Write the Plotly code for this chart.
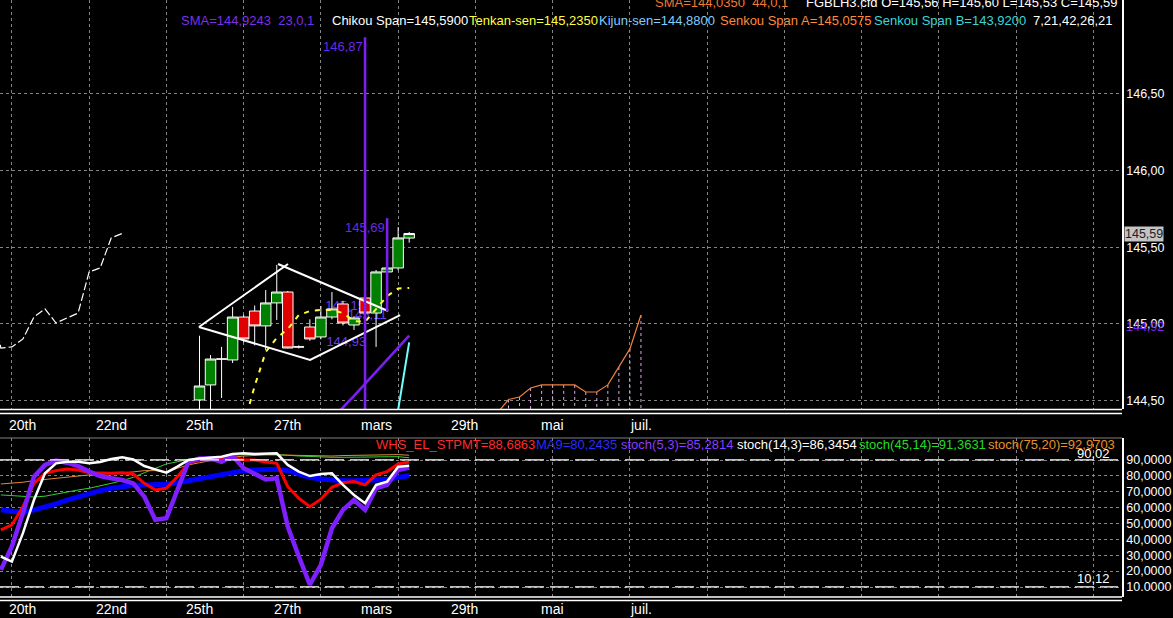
import plotly.graph_objects as go

W, H = 1173, 618
PLOT_W = 1122

FONT = "Liberation Sans, Arial, sans-serif"
NARROW = "Liberation Sans Narrow, Arial Narrow, Liberation Sans, sans-serif"
GRID = "#858585"

# ---------------- data ----------------
bar_index = list(range(20))
bar_open = [144.504, 144.602, 144.771, 144.765, 145.045, 145.084, 144.987, 145.137, 145.208, 144.850,
            144.980, 144.915, 145.045, 145.130, 144.993, 145.169, 145.071, 145.339, 145.365, 145.56]
bar_high = [144.923, 144.797, 144.850, 145.111, 145.060, 145.120, 145.221, 145.385, 145.215, 144.860,
            145.030, 145.117, 145.208, 145.150, 145.050, 145.180, 145.352, 145.370, 145.632, 145.60]
bar_low = [144.300, 144.400, 144.517, 144.745, 144.880, 144.860, 144.830, 145.026, 144.840, 144.840,
           144.890, 144.900, 145.030, 144.990, 144.961, 145.060, 144.850, 145.330, 145.350, 145.53]
bar_close = [144.595, 144.771, 144.771, 145.045, 144.902, 144.987, 145.137, 145.208, 144.843, 144.850,
             144.902, 145.045, 145.098, 145.006, 145.039, 145.071, 145.339, 145.365, 145.561, 145.59]
chikou_shift = 26

tenkan_index = list(range(4, 20))
tenkan_sen = [144.34, 144.595, 144.817, 144.908, 144.967, 145.058, 145.084, 145.091, 145.091, 145.071,
              145.019, 145.013, 145.097, 145.182, 145.231, 145.235]
kijun_index = list(range(14, 20))
kijun_sen = [143.90, 143.92, 143.96, 144.10, 144.44, 144.88]
sma23_index = list(range(11, 20))
sma23 = [144.30, 144.38, 144.455, 144.53, 144.61, 144.69, 144.77, 144.85, 144.924]

senkou_index = list(range(21, 41))
senkou_a = [144.10, 144.15, 144.20, 144.27, 144.33, 144.38, 144.42, 144.507, 144.523, 144.582,
            144.602, 144.602, 144.602, 144.602, 144.556, 144.556, 144.602, 144.719, 144.837, 145.058]
senkou_b = [143.92, 143.92, 143.92, 143.92, 143.92, 143.92, 143.92, 143.92, 143.92, 143.92,
            143.92, 143.92, 143.92, 143.92, 143.92, 143.92, 143.92, 143.92, 143.92, 143.92]

proj_index = [15, 17]
proj_top = [146.87, 145.69]
proj_bottom = [144.00, 145.08]
proj_labels = ["146,87", "145,69"]

level_label_index = [13.2, 15.2, 13.3]
level_label_price = [145.114, 145.052, 144.876]
level_labels = ["145,15", "145,11", "144,93"]

diamond_x = [-0.05, 8.02, None, 7.12, 17.09, None, -0.05, 10.02, 18.18]
diamond_y = [144.980, 145.391, None, 145.391, 145.084, None, 144.980, 144.765, 145.058]

osc_index = list(range(-18, 20))
whs_stpmt = [46.0, 49.1, 60.6, 75.3, 81.6, 83.3, 84.3, 83.7, 82.0, 81.6, 81.6, 82.0, 81.2, 75.3, 71.1, 72.2,
             79.5, 87.9, 90.0, 90.0, 90.4, 91.7, 90.0, 90.0, 88.7, 87.9, 73.2, 65.9, 60.6, 65.3, 72.8, 75.7,
             76.4, 74.3, 80.6, 82.7, 87.5, 88.7]
ma9 = [58.6, 57.5, 56.9, 58.6, 60.2, 62.3, 64.8, 66.9, 68.6, 70.7, 72.2, 73.2, 74.1, 74.3, 74.3, 74.7,
       75.7, 77.0, 78.5, 79.5, 80.6, 82.0, 83.3, 83.7, 84.1, 84.1, 83.3, 81.2, 79.1, 78.0, 77.4, 77.0,
       77.0, 77.0, 77.4, 77.8, 78.7, 80.2]
stoch_5_3 = [20.8, 35.5, 56.6, 79.5, 86.9, 89.6, 88.3, 86.2, 82.7, 79.9, 78.5, 77.4, 75.3, 66.9, 52.3, 53.3,
             71.1, 88.9, 91.0, 91.0, 88.9, 92.5, 84.8, 81.6, 77.8, 78.5, 48.0, 29.2, 11.4, 24.0, 47.0, 58.6,
             64.8, 58.6, 72.2, 74.3, 83.7, 85.3]
stoch_14_3 = [29.2, 26.0, 43.9, 64.8, 81.6, 87.9, 88.9, 88.9, 87.9, 88.7, 90.6, 91.7, 90.4, 86.2, 84.1, 82.0,
              85.8, 90.0, 91.0, 91.5, 92.1, 93.8, 94.2, 93.8, 93.8, 94.2, 86.9, 82.7, 79.9, 81.2, 81.6, 74.3,
              68.0, 62.8, 74.3, 76.4, 85.8, 86.4]
stoch_45_14 = [68.0, 67.5, 67.0, 66.7, 67.2, 68.6, 69.9, 71.1, 72.2, 73.6, 75.3, 77.0, 79.1, 82.0, 84.8, 87.5,
               88.9, 90.4, 91.3, 91.7, 92.1, 93.0, 93.6, 93.8, 93.8, 93.6, 93.0, 92.5, 92.1, 91.9, 91.7, 91.7,
               91.7, 91.7, 91.7, 91.9, 92.1, 91.4]
stoch_75_20 = [74.9, 75.3, 76.0, 77.0, 77.8, 78.7, 79.5, 79.9, 80.6, 81.2, 81.6, 82.0, 82.5, 83.3, 83.3, 82.0,
               84.8, 86.9, 88.3, 89.6, 90.4, 91.7, 92.5, 93.0, 93.2, 93.2, 93.0, 92.8, 92.5, 92.5, 92.5, 92.8,
               93.0, 93.2, 93.4, 93.6, 93.4, 93.0]
osc_levels = [90.02, 10.12]
osc_level_text = ["90,02", "10,12"]

price_ticks = [144.5, 145.0, 145.5, 146.0, 146.5]
price_tick_text = ["144,50", "145,00", "145,50", "146,00", "146,50"]
osc_ticks = [10, 20, 30, 40, 50, 60, 70, 80, 90]
osc_tick_text = ["10.0000", "20,0000", "30,0000", "40,0000", "50,0000", "60,0000", "70,0000", "80,0000", "90,0000"]

date_label_index = [-16, -8, 0, 8, 16, 24, 32, 40]
date_labels = ["20th", "22nd", "25th", "27th", "mars", "29th", "mai", "juil."]

last_close_text = "145,59"
sma23_label = "144,92"

header_top = [("SMA=144,0350\u00a0\u00a044,0,1", "#f07a32", 653),
              ("FGBLH3.cfd O=145,56 H=145,60 L=145,53 C=145,59", "#ffffff", 804)]
header_main = [("SMA=144,9243\u00a0\u00a023,0,1", "#7b30e8", 178.5),
               ("Chikou Span=145,5900", "#ffffff", 330),
               ("Tenkan-sen=145,2350", "#ffff40", 467),
               ("Kijun-sen=144,8800", "#80ccff", 597),
               ("Senkou Span A=145,0575", "#ff8a3c", 718),
               ("Senkou Span B=143,9200", "#3cd6d6", 872),
               ("7,21,42,26,21", "#ffffff", 1031)]
osc_legend = [("WHS_EL_STPMT=88,6863", "#ff2a2a", 374),
              ("MA9=80,2435", "#2a2aff", 534),
              ("stoch(5,3)=85,2814", "#8a3cff", 619),
              ("stoch(14,3)=86,3454", "#ffffff", 735),
              ("stoch(45,14)=91,3631", "#22dd22", 857),
              ("stoch(75,20)=92,9703", "#e8902c", 986)]

# ---------------- geometry ----------------
X_RANGE = [-18.077, 83.59]
P_RANGE = [144.445, 147.113]
O_RANGE = [3.70, 103.86]
MAIN_BOTTOM_PX = 409
OSC_TOP_PX, OSC_BOTTOM_PX = 438, 597


def py2paper(py):
    return 1 - py / H


fig = go.Figure()

# cloud hatching (Senkou A -> Senkou B)
hx, hy = [], []
for b, a, s in zip(senkou_index, senkou_a, senkou_b):
    hx += [b, b, None]
    hy += [a, s, None]
fig.add_trace(go.Scatter(x=hx, y=hy, mode="lines", xaxis="x", yaxis="y3", hoverinfo="skip",
                         line=dict(color="#dca6e6", width=1, dash="3px,3px")))
fig.add_trace(go.Scatter(x=senkou_index, y=senkou_b, mode="lines", xaxis="x", yaxis="y3",
                         line=dict(color="#3cd6d6", width=1)))
fig.add_trace(go.Scatter(x=senkou_index, y=senkou_a, mode="lines", xaxis="x", yaxis="y3",
                         line=dict(color="#f08040", width=1.2)))

# level labels (below candles)
fig.add_trace(go.Scatter(x=level_label_index, y=level_label_price, mode="text", text=level_labels,
                         textfont=dict(family=FONT, size=13, color="#6a3cf0"), xaxis="x", yaxis="y"))

# candles
fig.add_trace(go.Candlestick(
    x=bar_index, open=bar_open, high=bar_high, low=bar_low, close=bar_close,
    xaxis="x", yaxis="y3", whiskerwidth=0,
    increasing=dict(line=dict(color="white", width=1), fillcolor="#008000"),
    decreasing=dict(line=dict(color="white", width=1), fillcolor="#e00000"),
))

# Chikou span
fig.add_trace(go.Scatter(x=[b - chikou_shift for b in bar_index], y=bar_close, mode="lines",
                         xaxis="x", yaxis="y3", line=dict(color="white", width=1.2, dash="8px,3px")))
# Kijun
fig.add_trace(go.Scatter(x=kijun_index, y=kijun_sen, mode="lines", xaxis="x", yaxis="y3",
                         line=dict(color="#70ffff", width=2)))
# SMA 23
fig.add_trace(go.Scatter(x=sma23_index, y=sma23, mode="lines", xaxis="x", yaxis="y3",
                         line=dict(color="#7a1ff0", width=2.6)))
# Tenkan
fig.add_trace(go.Scatter(x=tenkan_index, y=tenkan_sen, mode="lines", xaxis="x", yaxis="y3",
                         line=dict(color="#ffff33", width=2, dash="5px,6px")))
# diamond pattern
fig.add_trace(go.Scatter(x=diamond_x, y=diamond_y, mode="lines", xaxis="x", yaxis="y3",
                         line=dict(color="white", width=2)))
# projection lines
px_, py_ = [], []
for b, t, lo in zip(proj_index, proj_top, proj_bottom):
    px_ += [b, b, None]
    py_ += [t, lo, None]
fig.add_trace(go.Scatter(x=px_, y=py_, mode="lines", xaxis="x", yaxis="y3",
                         line=dict(color="#7a1ff0", width=2.6)))

# oscillators
osc_series = [
    (stoch_45_14, "#30d030", 1),
    (stoch_75_20, "#e08a3a", 1),
    (ma9, "#0000ff", 5),
    (whs_stpmt, "#ff0000", 3),
    (stoch_5_3, "#7f1fff", 4.5),
    (stoch_14_3, "#ffffff", 2.5),
]
for vals, col, wd in osc_series:
    fig.add_trace(go.Scatter(x=osc_index, y=vals, mode="lines", xaxis="x2", yaxis="y2",
                             line=dict(color=col, width=wd)))

# ---------------- annotations ----------------
ann = []


def pa(text, px, py, color, size=13, xanchor="left", family=FONT, **kw):
    d = dict(text=text, x=px / PLOT_W, y=py2paper(py), xref="paper", yref="paper",
             xanchor=xanchor, yanchor="middle", showarrow=False,
             font=dict(color=color, size=size, family=family))
    d.update(kw)
    return d


for txt, col, x0 in header_top:
    ann.append(pa(txt, x0, 3, col))
for txt, col, x0 in header_main:
    ann.append(pa(txt, x0, 21, col))
for txt, col, x0 in osc_legend:
    ann.append(pa(txt, x0, 444, col))

ann.append(pa(osc_level_text[0], 1112, 453, "white", xanchor="right"))
ann.append(pa(osc_level_text[1], 1112, 578, "white", xanchor="right"))

for b, lab in zip(date_label_index, date_labels):
    for row_py in (425.5, 608.5):
        ann.append(dict(text=lab, x=b, y=py2paper(row_py), xref="x", yref="paper",
                        xanchor="center", yanchor="middle", showarrow=False,
                        font=dict(color="white", size=14, family=NARROW)))

for b, t, lab in zip(proj_index, proj_top, proj_labels):
    ann.append(dict(text=lab, x=b, y=t, xref="x", yref="y", xanchor="right", yanchor="top",
                    showarrow=False, font=dict(color="#6a2ae8", size=13, family=FONT)))

ann.append(pa(last_close_text, 1124, 233.5, "#202020", size=12.5, bgcolor="#c4c4c4", borderpad=0))
ann.append(pa(sma23_label, 1124, 327, "#7a28f0", size=12.5))

# ---------------- shapes ----------------
shapes = []
for ypx, col, wd in [(409.5, "white", 1.5), (413.5, "white", 1.5), (OSC_TOP_PX, "#808080", 1),
                     (597, "white", 1.5), (600.5, "white", 1.5)]:
    shapes.append(dict(type="line", xref="paper", yref="paper", x0=0, x1=1,
                       y0=py2paper(ypx), y1=py2paper(ypx), line=dict(color=col, width=wd)))
for lv in osc_levels:
    shapes.append(dict(type="line", xref="paper", yref="y2", x0=0, x1=1118 / PLOT_W, y0=lv, y1=lv,
                       line=dict(color="white", width=1.2, dash="19px,6px")))

axis_common = dict(range=X_RANGE, tickmode="linear", tick0=-17, dtick=7, showgrid=True,
                   gridcolor=GRID, griddash="3px,3px", gridwidth=1, showticklabels=False,
                   ticks="", zeroline=False, showline=False, fixedrange=True)

fig.update_layout(
    width=W, height=H, margin=dict(l=0, r=W - PLOT_W, t=0, b=0, pad=0),
    paper_bgcolor="black", plot_bgcolor="black", showlegend=False, hovermode=False,
    boxgap=0.05, boxgroupgap=0,
    xaxis=dict(domain=[0, 1], anchor="y", rangeslider=dict(visible=False), **axis_common),
    xaxis2=dict(domain=[0, 1], anchor="y2", matches="x", **axis_common),
    yaxis=dict(domain=[py2paper(MAIN_BOTTOM_PX), 1], range=P_RANGE, side="right", anchor="x",
               tickmode="array", tickvals=price_ticks, ticktext=price_tick_text,
               showgrid=True, gridcolor=GRID, griddash="3px,3px", gridwidth=1,
               showline=True, linecolor="white", linewidth=1.5, ticks="",
               tickfont=dict(color="white", size=12.5, family=FONT), zeroline=False, fixedrange=True),
    yaxis3=dict(overlaying="y", range=P_RANGE, visible=False, anchor="x", side="right", fixedrange=True),
    yaxis2=dict(domain=[py2paper(OSC_BOTTOM_PX), py2paper(OSC_TOP_PX)], range=O_RANGE, side="right",
                anchor="x2", tickmode="array", tickvals=osc_ticks, ticktext=osc_tick_text,
                showgrid=True, gridcolor=GRID, griddash="3px,3px", gridwidth=1,
                showline=True, linecolor="white", linewidth=1.5, ticks="",
                tickfont=dict(color="white", size=12.5, family=FONT), zeroline=False, fixedrange=True),
    annotations=ann,
    shapes=shapes,
)

fig.write_html("out.html", config={"displayModeBar": False},
               post_script="document.body.style.margin='0px';document.body.style.overflow='hidden';")
